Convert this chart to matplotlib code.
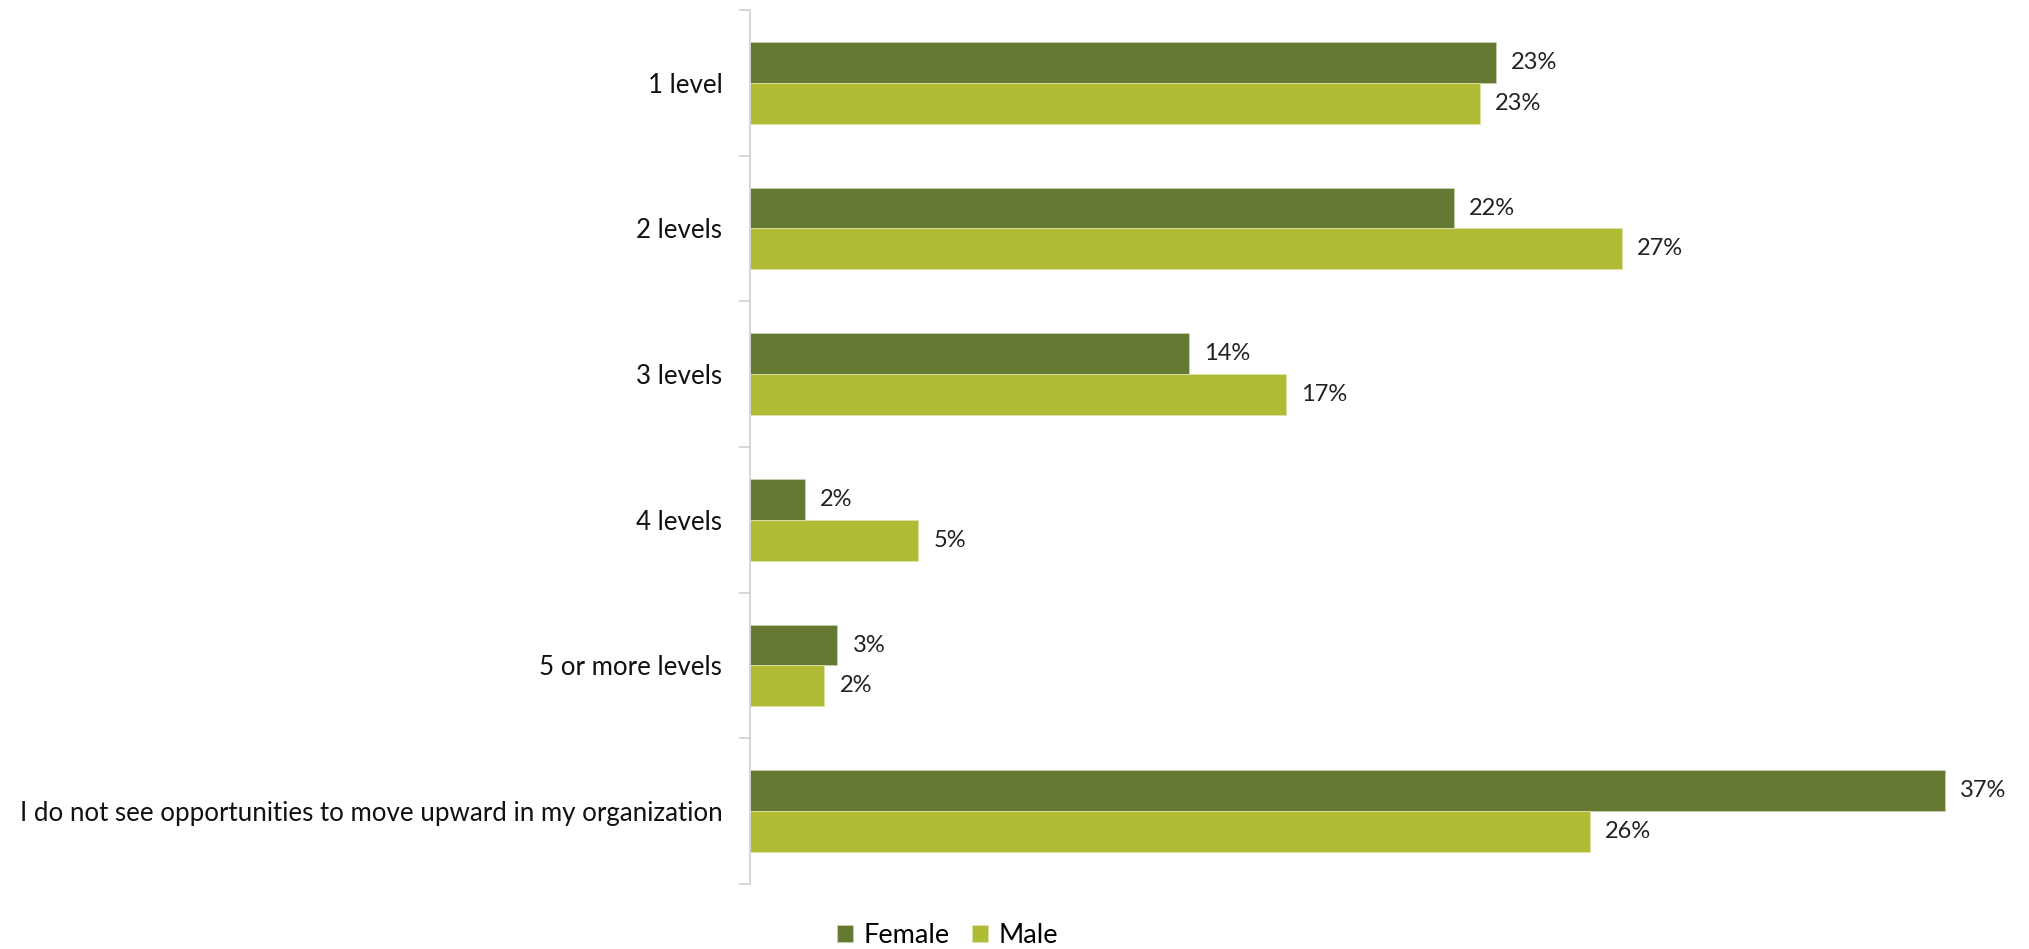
import numpy as np
import matplotlib.pyplot as plt
from matplotlib.ticker import FixedLocator

categories = ['1 level', '2 levels', '3 levels', '4 levels', '5 or more levels',
              'I do not see opportunities to move upward in my organization']
female = [23.1, 21.8, 13.6, 1.7, 2.7, 37.0]
male = [22.6, 27.0, 16.6, 5.2, 2.3, 26.0]
female_labels = ['23%', '22%', '14%', '2%', '3%', '37%']
male_labels = ['23%', '27%', '17%', '5%', '2%', '26%']

dark = '#667932'
light = '#B0BC34'

plt.rcParams['font.family'] = ['Lato', 'DejaVu Sans']

fig = plt.figure(figsize=(20.29, 9.49), dpi=100)
ax = fig.add_axes([0.3697, 0.0685, 0.6047, 0.921])

y = np.arange(len(categories))
h = 0.28
ax.barh(y - h / 2, female, height=h, color=dark, edgecolor='#c8d0b0', linewidth=0.6, label='Female')
ax.barh(y + h / 2, male, height=h, color=light, edgecolor='#dde3a8', linewidth=0.6, label='Male')

for yi, v, lab in zip(y, female, female_labels):
    ax.annotate(lab, (v, yi - h / 2), xytext=(11, 0), textcoords='offset points',
                va='center', ha='left', fontsize=17, color='#222222')
for yi, v, lab in zip(y, male, male_labels):
    ax.annotate(lab, (v, yi + h / 2), xytext=(11, 0), textcoords='offset points',
                va='center', ha='left', fontsize=17, color='#222222')

ax.set_xlim(0, 38)
ax.set_ylim(len(categories) - 0.5, -0.5)
ax.set_yticks(y)
ax.set_yticklabels(categories, fontsize=18.6, color='#111111')
ax.yaxis.set_minor_locator(FixedLocator(np.arange(-0.5, len(categories), 1.0)))
ax.tick_params(axis='y', which='major', length=0, pad=20)
ax.tick_params(axis='y', which='minor', length=8, width=1.2, color='#d0d0d0')
ax.set_xticks([])

for s in ['top', 'right', 'bottom']:
    ax.spines[s].set_visible(False)
ax.spines['left'].set_color('#d0d0d0')
ax.spines['left'].set_linewidth(1.2)

fig.legend(loc='center', bbox_to_anchor=(0.467, 0.014), ncol=2, frameon=False,
           fontsize=19.5, handlelength=0.6, handleheight=0.6, handletextpad=0.4,
           columnspacing=0.8)

fig.savefig('out.png', dpi=100)
